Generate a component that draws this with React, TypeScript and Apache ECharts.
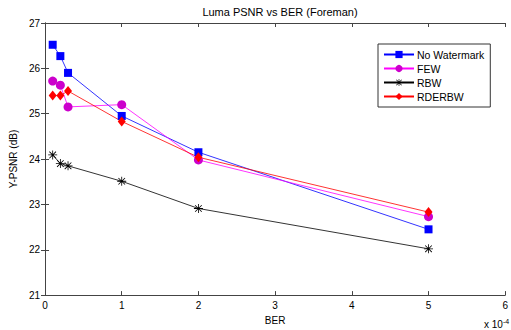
import React, { useEffect, useRef } from "react";
import * as echarts from "echarts";

const berValues = [0.1, 0.2, 0.3, 1, 2, 5]; // in units of 1e-4
const noWatermark = [26.52, 26.27, 25.9, 24.95, 24.15, 22.45];
const few = [25.72, 25.63, 25.15, 25.2, 23.98, 22.73];
const rbw = [24.09, 23.9, 23.85, 23.51, 22.91, 22.02];
const rderbw = [25.4, 25.4, 25.5, 24.83, 24.04, 22.83];
const seriesNames = ["No Watermark", "FEW", "RBW", "RDERBW"];

const FONT = "Liberation Sans, Arial, sans-serif";
const AX = "#444";
const ASTERISK =
  "path://M4.55 0 L5.45 0 L5.45 10 L4.55 10 Z M0 4.55 L10 4.55 L10 5.45 L0 5.45 Z M1 1.65 L1.65 1 L9 8.35 L8.35 9 Z M1 8.35 L8.35 1 L9 1.65 L1.65 9 Z";

function pts(ys: number[]) {
  return berValues.map((x, i) => [x, ys[i]]);
}

export default function App() {
  const ref = useRef<HTMLDivElement>(null);
  useEffect(() => {
    if (!ref.current) return;
    const chart = echarts.init(ref.current, undefined, { renderer: "svg" });
    const axisCommon = {
      axisLine: { show: true, lineStyle: { color: AX, width: 1 } },
      axisTick: { show: true, inside: true, length: 4, lineStyle: { color: AX } },
      splitLine: { show: false },
    };
    chart.setOption({
      animation: false,
      backgroundColor: "#fff",
      title: {
        text: "Luma PSNR vs BER (Foreman)",
        left: 275,
        textAlign: "center",
        top: 1,
        textStyle: { fontFamily: FONT, fontSize: 11, fontWeight: "normal", color: "#000" },
      },
      grid: { left: 41, right: 2, top: 23, bottom: 31, containLabel: false },
      legend: {
        orient: "vertical",
        left: 378,
        top: 44,
        padding: [5, 6, 5, 5],
        backgroundColor: "#fff",
        borderColor: "#333",
        borderWidth: 1,
        borderRadius: 0,
        itemWidth: 30,
        itemHeight: 9,
        itemGap: 3,
        textStyle: { fontFamily: FONT, fontSize: 10.5, color: "#000", lineHeight: 11, padding: [0, 0, 0, -2] },
        data: seriesNames,
      },
      xAxis: [
        {
          type: "value",
          min: 0,
          max: 6,
          interval: 1,
          name: "BER",
          nameLocation: "middle",
          nameGap: 17,
          nameTextStyle: { fontFamily: FONT, fontSize: 10, color: "#000" },
          axisLabel: { fontFamily: FONT, fontSize: 10, color: "#000", margin: 5 },
          ...axisCommon,
        },
        {
          type: "value",
          position: "top",
          min: 0,
          max: 6,
          interval: 1,
          axisLabel: { show: false },
          ...axisCommon,
        },
      ],
      yAxis: [
        {
          type: "value",
          min: 21,
          max: 27,
          interval: 1,
          name: "Y-PSNR (dB)",
          nameLocation: "middle",
          nameGap: 25,
          nameTextStyle: { fontFamily: FONT, fontSize: 10, color: "#000" },
          axisLabel: { fontFamily: FONT, fontSize: 10, color: "#000", margin: 5 },
          ...axisCommon,
        },
        {
          type: "value",
          position: "right",
          min: 21,
          max: 27,
          interval: 1,
          axisLabel: { show: false },
          ...axisCommon,
        },
      ],
      series: [
        {
          name: seriesNames[0],
          type: "line",
          data: pts(noWatermark),
          symbol: "rect",
          symbolSize: 8,
          itemStyle: { color: "#0000ff" },
          lineStyle: { color: "#0000ff", width: 0.8 },
        },
        {
          name: seriesNames[1],
          type: "line",
          data: pts(few),
          symbol: "circle",
          symbolSize: 9,
          itemStyle: { color: "#cc00cc" },
          lineStyle: { color: "#ff00ff", width: 0.8 },
        },
        {
          name: seriesNames[2],
          type: "line",
          data: pts(rbw),
          symbol: ASTERISK,
          symbolSize: 9,
          itemStyle: { color: "#000" },
          lineStyle: { color: "#000", width: 0.8 },
        },
        {
          name: seriesNames[3],
          type: "line",
          data: pts(rderbw),
          symbol: "diamond",
          symbolSize: [8, 10],
          itemStyle: { color: "#ff0000" },
          lineStyle: { color: "#ff0000", width: 0.8 },
        },
      ],
      graphic: [
        {
          type: "text",
          left: 484,
          top: 318,
          style: {
            text: "x 10{s|-4}",
            fontFamily: FONT,
            fontSize: 10,
            fill: "#000",
            rich: { s: { fontSize: 7, fontFamily: FONT, verticalAlign: "top", padding: [0, 0, 6, 0] } },
          },
        },
      ],
    });
    return () => chart.dispose();
  }, []);
  return (
    <div
      ref={ref}
      style={{ position: "fixed", left: 0, top: 0, width: 511, height: 330 }}
    />
  );
}
